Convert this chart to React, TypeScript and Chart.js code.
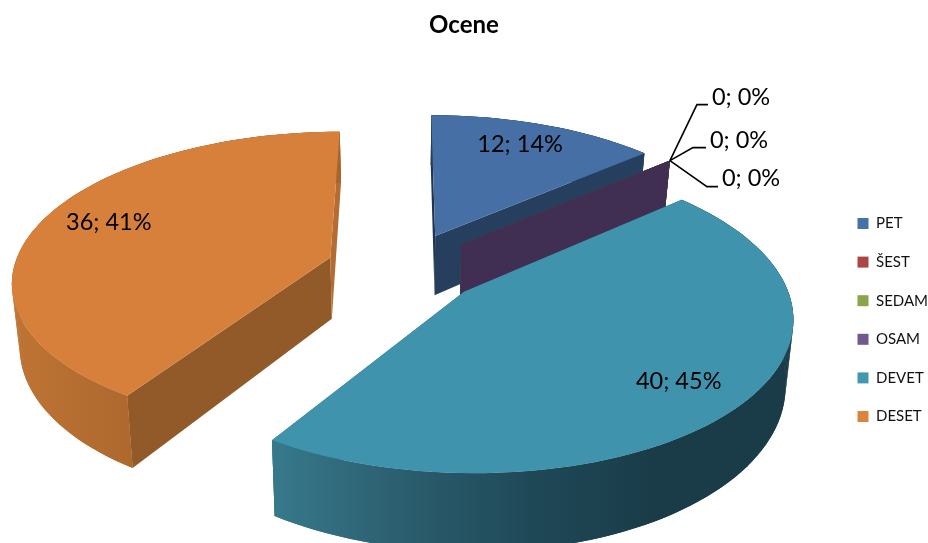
import React, { useEffect, useRef } from "react";
import { Chart, registerables } from "chart.js";

Chart.register(...registerables);

const categories = ["PET", "ŠEST", "SEDAM", "OSAM", "DEVET", "DESET"];
const grades = [12, 0, 0, 0, 40, 36];
const legendColors = ["#4572A7", "#AA4643", "#89A54E", "#71588F", "#4198AF", "#DB843D"];
const topColors = ["#456FA5", "#A84542", "#87A24D", "#6F578D", "#4093AC", "#D7803B"];
const startWallColors = ["#1F3552", "#652A28", "#52612E", "#402F52", "#265766", "#925A29"];
const endWallColors = ["#263F5F", "#652A28", "#52612E", "#402F52", "#265766", "#B36C31"];
const rimStops: string[][] = [
  ["#263F5F", "#263F5F"],
  ["#652A28", "#652A28"],
  ["#52612E", "#52612E"],
  ["#402F52", "#402F52"],
  ["#37798C", "#2B5E6E", "#1F4857", "#1A3B48", "#1A3B48"],
  ["#BE7434", "#A8642C", "#A8642C"],
];

// Leader lines of the zero-valued labels, relative to the rim point of their slice.
const leaderOffsets = [
  { elbow: [27, -56], end: [38, -56], text: [42, -63] },
  { elbow: [23, -13], end: [36, -13], text: [40, -20] },
  { elbow: [37, 26], end: [48, 26], text: [52, 18] },
];

// Fine placement of the labels that sit on a slice.
const labelNudges = [[-3, -2], [0, 0], [0, 0], [0, 0], [1, 4], [5, -4]];

// Tilted view of the pie: radius scale, explosion and wall depth.
const view = { cx: 404, cy: 267.6, rx: 323, ry: 150, radius: 0.98, explode: 0.24, persp: 0.15, depth: 62, depthSlope: 0.08, narrow: 0.98 };
const labelRadius = 0.77;
const labelFont = "23.5px Lato";

type P = { x: number; y: number };

function project(wx: number, wy: number): P {
  const s = 1 + view.persp * wy;
  return { x: view.cx + (view.rx * wx) / s, y: view.cy - (view.ry * wy) / s };
}

function lower(p: P): P {
  return {
    x: view.cx + (p.x - view.cx) * view.narrow,
    y: p.y + view.depth + (p.y - view.cy) * view.depthSlope,
  };
}

function fillPoly(ctx: CanvasRenderingContext2D, pts: P[], fill: string | CanvasGradient) {
  ctx.beginPath();
  pts.forEach((p, i) => (i ? ctx.lineTo(p.x, p.y) : ctx.moveTo(p.x, p.y)));
  ctx.closePath();
  ctx.fillStyle = fill;
  ctx.fill();
}

const pie3d = {
  id: "pie3d",
  // The arc geometry comes from the pie controller; only its drawing is replaced.
  beforeDatasetDraw(chart: any) {
    const { ctx } = chart;
    const arcs = chart.getDatasetMeta(0).data;
    const total = grades.reduce((a, b) => a + b, 0);
    const shapes = arcs.map((arc: any) => {
      const a0 = arc.startAngle + Math.PI / 2;
      const a1 = arc.endAngle + Math.PI / 2;
      const mid = (a0 + a1) / 2;
      const ox = Math.sin(mid) * view.explode;
      const oy = Math.cos(mid) * view.explode;
      const at = (t: number, r: number) => project(ox + Math.sin(t) * r, oy + Math.cos(t) * r);
      const steps = Math.max(1, Math.ceil((a1 - a0) * 30));
      const rim: P[] = [];
      for (let k = 0; k <= steps; k++) rim.push(at(a0 + ((a1 - a0) * k) / steps, view.radius));
      return { a0, a1, mid, at, rim, apex: at(mid, 0) };
    });

    ctx.save();
    shapes.forEach((s: any, i: number) => {
      const { rim, apex } = s;
      const first = rim[0];
      const last = rim[rim.length - 1];
      fillPoly(ctx, [first, apex, lower(apex), lower(first)], startWallColors[i]);
      fillPoly(ctx, [last, apex, lower(apex), lower(last)], endWallColors[i]);
      if (grades[i] > 0) {
        const xs = rim.map((p: P) => p.x);
        const g = ctx.createLinearGradient(Math.min(...xs), 0, Math.max(...xs), 0);
        rimStops[i].forEach((c, k) => g.addColorStop(k / (rimStops[i].length - 1), c));
        // The curved wall is filled strip by strip so its silhouette follows the tangent.
        fillPoly(ctx, [...rim, ...rim.map(lower).reverse()], g);
        for (let k = 0; k < rim.length - 1; k++) {
          fillPoly(ctx, [rim[k], rim[k + 1], lower(rim[k + 1]), lower(rim[k])], g);
        }
        fillPoly(ctx, [apex, ...rim], topColors[i]);
      }
    });

    // Value labels
    ctx.font = labelFont;
    ctx.fillStyle = "#000";
    ctx.textBaseline = "middle";
    ctx.strokeStyle = "#000";
    ctx.lineWidth = 1.6;
    let zeroIndex = 0;
    shapes.forEach((s: any, i: number) => {
      const text = `${grades[i]}; ${Math.round((grades[i] / total) * 100)}%`;
      if (grades[i] > 0) {
        const p = s.at(s.mid, labelRadius);
        ctx.textAlign = "center";
        ctx.fillText(text, p.x + labelNudges[i][0], p.y + labelNudges[i][1]);
      } else {
        const anchor = s.rim[0];
        const l = leaderOffsets[zeroIndex++];
        ctx.beginPath();
        ctx.moveTo(anchor.x, anchor.y);
        ctx.lineTo(anchor.x + l.elbow[0], anchor.y + l.elbow[1]);
        ctx.lineTo(anchor.x + l.end[0], anchor.y + l.end[1]);
        ctx.stroke();
        ctx.textAlign = "left";
        ctx.fillText(text, anchor.x + l.text[0], anchor.y + l.text[1]);
      }
    });
    ctx.restore();
    return false;
  },
};

export default function App() {
  const ref = useRef<HTMLCanvasElement>(null);
  useEffect(() => {
    const chart = new Chart(ref.current!, {
      type: "pie",
      data: {
        labels: categories,
        datasets: [{ data: grades, backgroundColor: legendColors, borderWidth: 0 }],
      },
      plugins: [pie3d],
      options: {
        animation: false,
        responsive: false,
        layout: { padding: { top: 0, right: -10, bottom: -97, left: -10 } },
        plugins: {
          tooltip: { enabled: false },
          title: {
            display: true,
            text: "Ocene",
            color: "#000",
            font: { family: "Lato", size: 24, weight: "bold" },
            padding: { top: 11, bottom: 40 },
          },
          legend: {
            position: "right",
            labels: {
              boxWidth: 11,
              boxHeight: 11,
              padding: 23.6,
              color: "#111",
              font: { family: "Lato", size: 15 },
            },
          },
        },
      },
    } as any);
    return () => chart.destroy();
  }, []);
  return (
    <div style={{ position: "fixed", left: 0, top: 0, width: 928, height: 543, background: "#fff" }}>
      <canvas ref={ref} width={928} height={543} style={{ display: "block" }} />
    </div>
  );
}
